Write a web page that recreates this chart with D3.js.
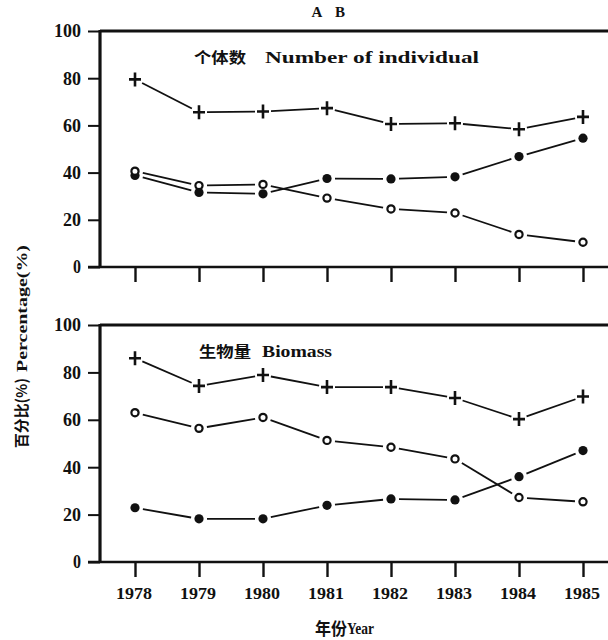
<!DOCTYPE html>
<html>
<head>
<meta charset="utf-8">
<script src="https://cdn.jsdelivr.net/npm/d3@7"></script>
<style>
  html, body { margin: 0; padding: 0; background: #fff; }
  svg { display: block; }
  .num { font-family: "Liberation Serif", "DejaVu Serif", serif; font-weight: bold; }
  .cjk { font-family: "Noto Sans CJK SC", sans-serif; font-weight: bold; }
</style>
</head>
<body>
<svg id="chart" width="608" height="640"></svg>
<script>
// Years on the shared x axis
const years = [1978, 1979, 1980, 1981, 1982, 1983, 1984, 1985];
const yTicks = [0, 20, 40, 60, 80, 100];

// Number of individuals (%)
const indivPlus   = [79.5, 65.6, 65.9, 67.3, 60.6, 60.9, 58.4, 63.6];
const indivOpen   = [40.6, 34.5, 35.0, 29.2, 24.6, 22.9, 13.8, 10.5];
const indivFilled = [38.8, 31.6, 31.0, 37.5, 37.3, 38.2, 46.8, 54.6];

// Biomass (%)
const bioPlus   = [86.0, 74.3, 78.9, 73.8, 73.8, 69.2, 60.3, 69.8];
const bioOpen   = [63.0, 56.4, 61.0, 51.3, 48.4, 43.5, 27.2, 25.4];
const bioFilled = [22.9, 18.2, 18.2, 23.9, 26.6, 26.2, 36.0, 47.0];

const svg = d3.select("#chart");
const ink = "#111";

const x = d3.scaleLinear().domain([1978, 1985]).range([135, 583]);

// Header letters
svg.append("text").attr("class", "num").attr("x", 317).attr("y", 17)
  .attr("text-anchor", "middle").attr("font-size", 15).attr("fill", ink).text("A");
svg.append("text").attr("class", "num").attr("x", 340).attr("y", 17)
  .attr("text-anchor", "middle").attr("font-size", 15).attr("fill", ink).text("B");

function segmentLines(g, pts, gap) {
  for (let i = 0; i < pts.length - 1; i++) {
    const [x1, y1] = pts[i], [x2, y2] = pts[i + 1];
    const dx = x2 - x1, dy = y2 - y1, len = Math.hypot(dx, dy);
    const ux = dx / len, uy = dy / len;
    g.append("line")
      .attr("x1", x1 + ux * gap).attr("y1", y1 + uy * gap)
      .attr("x2", x2 - ux * gap).attr("y2", y2 - uy * gap)
      .attr("stroke", ink).attr("stroke-width", 1.8);
  }
}

function drawPanel(top, bottom, series, title) {
  const y = d3.scaleLinear().domain([0, 100]).range([bottom, top]);
  const g = svg.append("g");

  // Y axis with ticks to the left
  const yAxis = d3.axisLeft(y).tickValues(yTicks).tickSize(12).tickPadding(7).tickFormat(d3.format("d"));
  const ya = g.append("g").attr("transform", "translate(100,0)").call(yAxis);
  ya.select(".domain").remove();
  ya.selectAll(".tick line").attr("stroke", ink).attr("stroke-width", 2);
  ya.selectAll(".tick text").attr("class", "num").attr("font-size", 18).attr("fill", ink)
    .attr("dy", "0.33em").attr("font-family", null)
    .attr("textLength", d => d === 100 ? 27 : d === 0 ? 8 : 18).attr("lengthAdjust", "spacingAndGlyphs");

  // Frame: left spine, top border, baseline
  g.append("line").attr("x1", 100).attr("x2", 100).attr("y1", top - 1).attr("y2", bottom + 1)
    .attr("stroke", ink).attr("stroke-width", 3.2);
  g.append("line").attr("x1", 100).attr("x2", 608).attr("y1", top).attr("y2", top)
    .attr("stroke", ink).attr("stroke-width", 3);
  g.append("line").attr("x1", 88).attr("x2", 608).attr("y1", bottom).attr("y2", bottom)
    .attr("stroke", ink).attr("stroke-width", 2.6);

  // X ticks hanging below the baseline
  const xAxis = d3.axisBottom(x).tickValues(years).tickSize(15).tickFormat("");
  const xa = g.append("g").attr("transform", `translate(0,${bottom})`).call(xAxis);
  xa.select(".domain").remove();
  xa.selectAll(".tick line").attr("stroke", ink).attr("stroke-width", 2.4);

  // Panel title
  g.append("text").attr("class", "cjk").attr("x", title.x).attr("y", title.y)
    .attr("font-size", 15).attr("fill", ink)
    .attr("textLength", title.cw).attr("lengthAdjust", "spacingAndGlyphs").text(title.cn);
  g.append("text").attr("class", "num").attr("x", title.x2).attr("y", title.y)
    .attr("font-size", 16).attr("fill", ink)
    .attr("textLength", title.w).attr("lengthAdjust", "spacingAndGlyphs").text(title.en);

  // Series
  series.forEach(s => {
    const pts = s.values.map((v, i) => [x(years[i]), y(v)]);
    segmentLines(g, pts, 8);
    const m = g.append("g");
    pts.forEach(([px, py]) => {
      if (s.marker === "plus") {
        m.append("path").attr("d", `M${px - 6},${py}H${px + 6}M${px},${py - 7}V${py + 7}`)
          .attr("stroke", ink).attr("stroke-width", 2.6).attr("fill", "none");
      } else if (s.marker === "filled") {
        m.append("circle").attr("cx", px).attr("cy", py).attr("r", 4.6).attr("fill", ink);
      } else {
        m.append("circle").attr("cx", px).attr("cy", py).attr("r", 3.6)
          .attr("fill", "#fff").attr("stroke", ink).attr("stroke-width", 2.2);
      }
    });
  });
}

drawPanel(31, 267, [
  { values: indivPlus, marker: "plus" },
  { values: indivFilled, marker: "filled" },
  { values: indivOpen, marker: "open" }
], { cn: "个体数", en: "Number of individual", x: 194, cw: 52, x2: 265, y: 63, w: 214 });

drawPanel(325, 562, [
  { values: bioPlus, marker: "plus" },
  { values: bioFilled, marker: "filled" },
  { values: bioOpen, marker: "open" }
], { cn: "生物量", en: "Biomass", x: 199, cw: 52, x2: 262, y: 357, w: 70 });

// Year labels
svg.append("g").selectAll("text").data(years).join("text")
  .attr("class", "num").attr("x", d => x(d) - 1).attr("y", 599)
  .attr("text-anchor", "middle").attr("font-size", 17).attr("fill", ink)
  .attr("textLength", 36).attr("lengthAdjust", "spacingAndGlyphs").text(d => d);

// X axis title
svg.append("text").attr("class", "cjk").attr("x", 315).attr("y", 635)
  .attr("fill", ink).attr("font-size", 17).attr("textLength", 32)
  .attr("lengthAdjust", "spacingAndGlyphs").text("年份");
svg.append("text").attr("class", "num").attr("x", 347).attr("y", 634)
  .attr("fill", ink).attr("font-size", 16).attr("textLength", 27)
  .attr("lengthAdjust", "spacingAndGlyphs").text("Year");

// Y axis title, rotated (reads bottom to top)
const yl = svg.append("g").attr("transform", "translate(22,0) rotate(-90)");
yl.append("text").attr("class", "cjk").attr("x", -448).attr("y", 5)
  .attr("fill", ink).attr("font-size", 15).attr("textLength", 70)
  .attr("lengthAdjust", "spacingAndGlyphs").text("百分比(%)");
yl.append("text").attr("class", "num").attr("x", -372).attr("y", 5)
  .attr("fill", ink).attr("font-size", 14).attr("textLength", 127)
  .attr("lengthAdjust", "spacingAndGlyphs").text("Percentage(%)");
</script>
</body>
</html>
